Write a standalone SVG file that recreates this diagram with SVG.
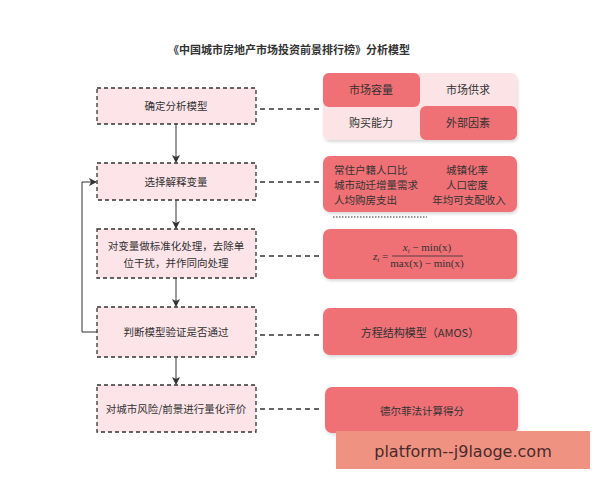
<svg xmlns="http://www.w3.org/2000/svg" width="600" height="480" viewBox="0 0 600 480">
<defs>
<marker id="ah" markerWidth="8" markerHeight="8" refX="7" refY="4" orient="auto" markerUnits="userSpaceOnUse">
<path d="M0,0 L8,4 L0,8 L2,4 Z" fill="#333"/>
</marker>
<filter id="sh" x="-5%" y="-10%" width="115%" height="130%">
<feDropShadow dx="1" dy="2" stdDeviation="1.5" flood-color="#000" flood-opacity="0.15"/>
</filter>
</defs>
<style>
text{font-family:"Noto Sans CJK SC","Liberation Sans",sans-serif;fill:#333}
.step{fill:#fce4e8;stroke:#333;stroke-width:1.3;stroke-dasharray:4,3}
.lbl{font-size:10.5px;text-anchor:middle}
.rl{font-size:11px;text-anchor:middle}
.dark{fill:#ef6f74}
.light{fill:#fce4e6}
.conn{fill:none;stroke:#333;stroke-width:1}
.dash{fill:none;stroke:#333;stroke-width:1.6;stroke-dasharray:5,4}
.math{font-family:"Liberation Serif",serif;font-size:11px;fill:#333}
.var{font-size:10.5px}
</style>
<rect width="600" height="480" fill="#fff"/>
<text x="289" y="54" style="font-size:11px;font-weight:bold;text-anchor:middle">《中国城市房地产市场投资前景排行榜》分析模型</text>

<g id="connectors">
<line class="conn" x1="176" y1="124" x2="176" y2="162" marker-end="url(#ah)"/>
<line class="conn" x1="176" y1="200" x2="176" y2="228" marker-end="url(#ah)"/>
<line class="conn" x1="176" y1="278" x2="176" y2="306" marker-end="url(#ah)"/>
<line class="conn" x1="176" y1="357" x2="176" y2="384" marker-end="url(#ah)"/>
<polyline class="conn" points="97,332 82,332 82,182 96,182" marker-end="url(#ah)"/>
<line class="dash" x1="260" y1="109" x2="322" y2="109"/>
<line class="dash" x1="260" y1="182" x2="322" y2="182"/>
<line class="dash" x1="260" y1="256" x2="322" y2="256"/>
<line class="dash" x1="260" y1="335" x2="322" y2="335"/>
<line class="dash" x1="260" y1="409" x2="322" y2="409"/>
</g>

<g id="step1"><rect class="step" x="97" y="88" width="159" height="36"/><text class="lbl" x="176" y="110">确定分析模型</text></g>
<g id="step2"><rect class="step" x="97" y="163" width="159" height="37"/><text class="lbl" x="176" y="186">选择解释变量</text></g>
<g id="step3"><rect class="step" x="97" y="229" width="159" height="49"/><text class="lbl" x="176" y="250">对变量做标准化处理，去除单</text><text class="lbl" x="176" y="267">位干扰，并作同向处理</text></g>
<g id="step4"><rect class="step" x="97" y="307" width="159" height="50"/><text class="lbl" x="176" y="336">判断模型验证是否通过</text></g>
<g id="step5"><rect class="step" x="97" y="385" width="159" height="47"/><text class="lbl" x="176" y="413">对城市风险/前景进行量化评价</text></g>

<g id="factors" filter="url(#sh)">
<rect class="light" x="323" y="73" width="194" height="67" rx="6"/>
<rect class="dark" x="323" y="73" width="97" height="34" rx="6"/>
<rect class="dark" x="420" y="106" width="97" height="34" rx="6"/>
</g>
<g id="factor-labels">
<text class="rl" x="371" y="94">市场容量</text>
<text class="rl" x="468" y="94">市场供求</text>
<text class="rl" x="371" y="127">购买能力</text>
<text class="rl" x="468" y="127">外部因素</text>
</g>

<g id="variables">
<rect class="dark" x="323" y="156" width="194" height="56" rx="7" filter="url(#sh)"/>
<text class="var" x="334" y="174">常住户籍人口比</text>
<text class="var" x="334" y="189">城市动迁增量需求</text>
<text class="var" x="334" y="204">人均购房支出</text>
<text class="var" x="467" y="174" text-anchor="middle">城镇化率</text>
<text class="var" x="467" y="189" text-anchor="middle">人口密度</text>
<text class="var" x="469" y="204" text-anchor="middle">年均可支配收入</text>
<line x1="333" y1="217" x2="427" y2="217" stroke="#333" stroke-width="1.2" stroke-dasharray="1.5,1.5"/>
</g>

<g id="formula">
<rect class="dark" x="323" y="229" width="194" height="50" rx="7" filter="url(#sh)"/>
<text class="math" x="373" y="260" style="font-style:italic">z<tspan font-size="7" dy="2">i</tspan><tspan dy="-2" font-style="normal"> =</tspan></text>
<text class="math" x="427" y="251" text-anchor="middle"><tspan font-style="italic">x</tspan><tspan font-size="7" dy="2" font-style="italic">i</tspan><tspan dy="-2"> − min(x)</tspan></text>
<line x1="392" y1="256" x2="463" y2="256" stroke="#333" stroke-width="0.8"/>
<text class="math" x="427" y="267" text-anchor="middle">max(x) − min(x)</text>
</g>

<g id="amos">
<rect class="dark" x="323" y="308" width="194" height="47" rx="7" filter="url(#sh)"/>
<text class="rl" x="420" y="337">方程结构模型（AMOS）</text>
</g>

<g id="delphi">
<rect class="dark" x="325" y="387" width="193" height="46" rx="7" filter="url(#sh)"/>
<text x="422" y="415" style="font-size:10.5px;text-anchor:middle">德尔菲法计算得分</text>
</g>

<g id="watermark">
<rect x="336" y="431" width="254" height="38" fill="#ef9282"/>
<text x="463" y="457" style="font-family:'DejaVu Sans',sans-serif;font-size:16px;text-anchor:middle;fill:#4a2a2a">platform--j9laoge.com</text>
</g>
</svg>
